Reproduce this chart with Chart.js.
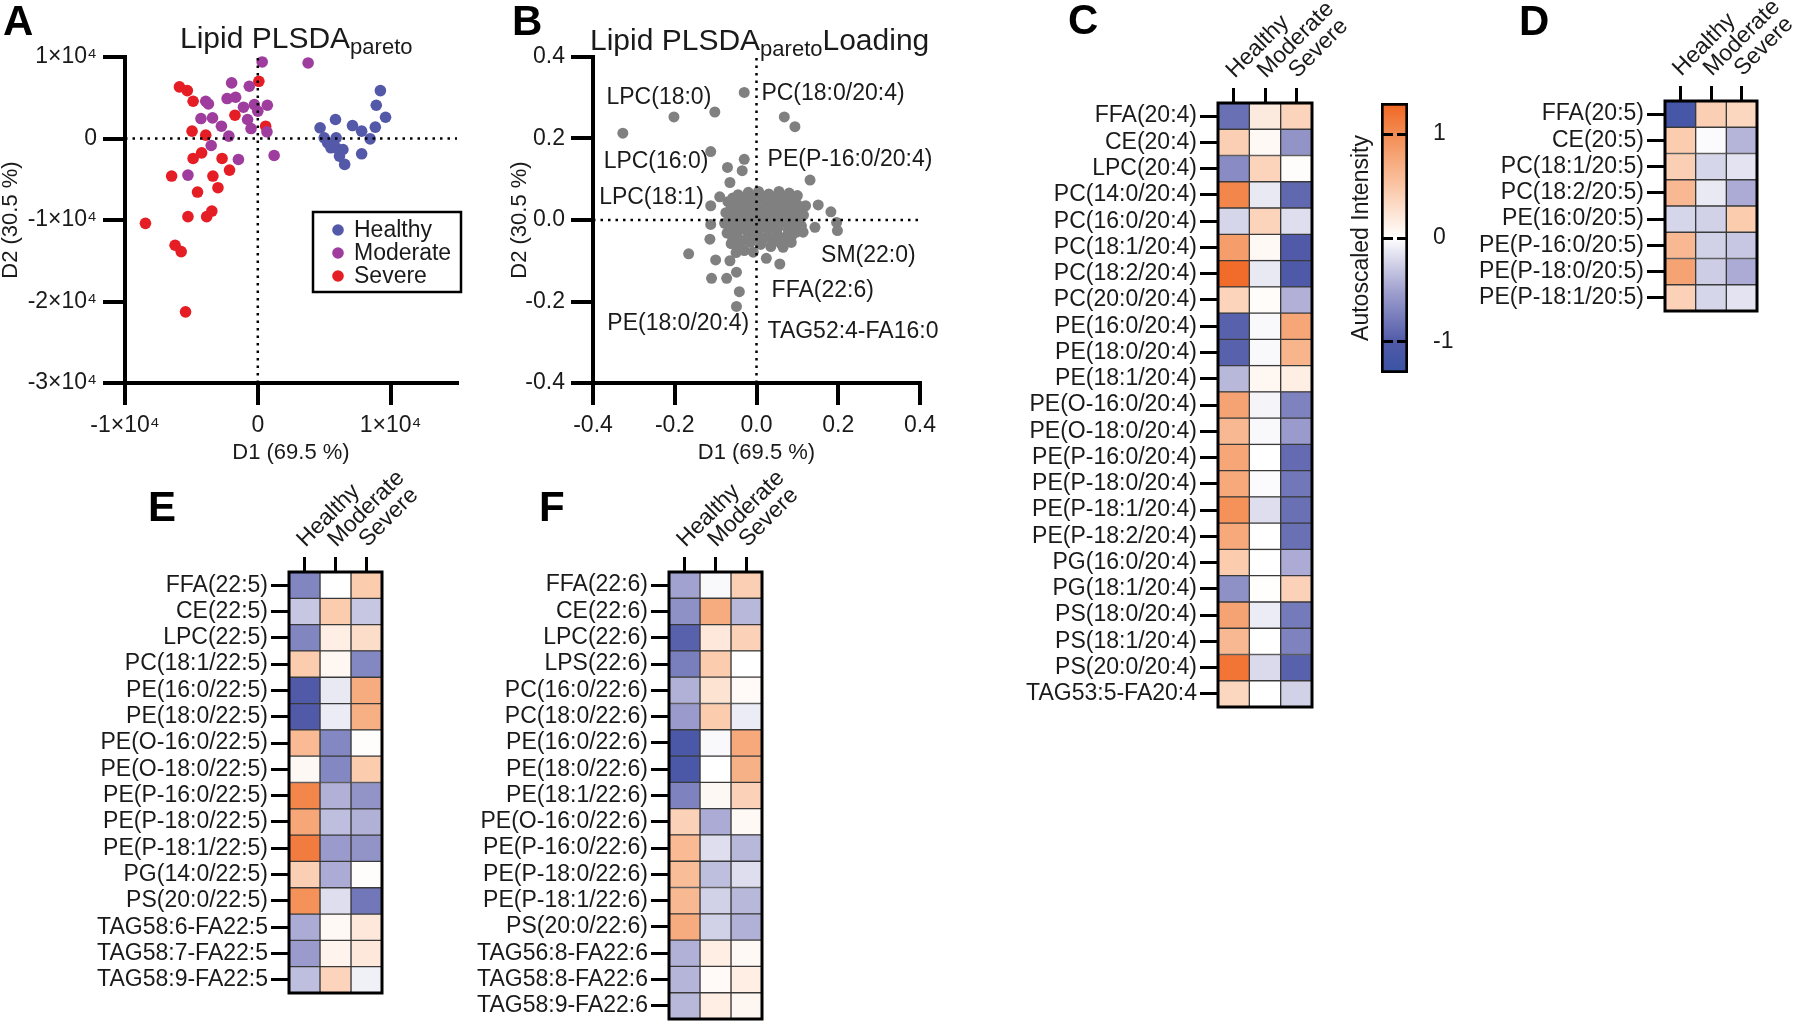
<!DOCTYPE html>
<html>
<head>
<meta charset="utf-8">
<script src="https://cdn.jsdelivr.net/npm/chart.js@4.4.1/dist/chart.umd.min.js"></script>
<style>
  body { margin: 0; background: #fff; }
  #fig { position: relative; width: 1800px; height: 1021px; overflow: hidden;
         font-family: Arial, 'Liberation Sans', sans-serif; color: #1a1a1a; }
  canvas { position: absolute; }
  .lt { position: absolute; font-weight: bold; font-size: 42px; line-height: 1; color: #000; }
  .ttl { position: absolute; font-size: 30px; line-height: 1; white-space: nowrap; }
  .ttl span { font-size: 22px; position: relative; top: 6px; }
</style>
</head>
<body>
<div id="fig">
  <canvas id="cA" width="470" height="470" style="left:0;top:0"></canvas>
  <canvas id="cB" width="480" height="470" style="left:470px;top:0"></canvas>
  <canvas id="cC" width="370" height="720" style="left:1000px;top:0"></canvas>
  <canvas id="cBar" width="140" height="310" style="left:1330px;top:80px"></canvas>
  <canvas id="cD" width="340" height="330" style="left:1460px;top:0"></canvas>
  <canvas id="cE" width="340" height="540" style="left:90px;top:470px"></canvas>
  <canvas id="cF" width="370" height="551" style="left:450px;top:470px"></canvas>

  <div class="lt" style="left:3px;top:0">A</div>
  <div class="lt" style="left:512px;top:0">B</div>
  <div class="lt" style="left:1068px;top:-1px">C</div>
  <div class="lt" style="left:1519px;top:0">D</div>
  <div class="lt" style="left:148px;top:486px">E</div>
  <div class="lt" style="left:539px;top:486px">F</div>
  <div class="ttl" style="left:180px;top:23px">Lipid PLSDA<span>pareto</span></div>
  <div class="ttl" style="left:590px;top:25px">Lipid PLSDA<span>pareto</span>Loading</div>
</div>
<script>
// groupes
const groups = ['Healthy', 'Moderate', 'Severe'];
const groupColors = ['#5458A8', '#9E3D9E', '#E51E25'];

// A : scores PLSDA (D1, D2)
const aHealthy = [[9230, 5880], [8920, 4080], [9620, 2610], [8850, 1390], [5850, 2330], [4690, 1310],
  [7130, 1590], [7820, 900], [8460, -40], [5000, 80], [5260, -530], [5510, -1140], [5900, 80],
  [6410, -1350], [6150, -2160], [6540, -3180], [7820, -1880], [5900, -1140]];
const aModerate = [[330, 9390], [3790, 9270], [-1970, 6820], [-640, 6410], [-3920, 4570], [-3720, 4240],
  [-2310, 4900], [-1670, 5060], [-1080, 3840], [-260, 4160], [720, 4080], [0, 3350], [-4280, 2450],
  [-3410, 2530], [-770, 2330], [-2740, 1510], [-510, 1220], [-2180, 290], [690, 820], [-3510, -860],
  [-1460, -2570], [1230, -2080], [-5260, -4490]];
const aSevere = [[-5900, 6330], [-5310, 5880], [-4870, 4570], [80, 7020], [-1720, 2860], [590, 1510],
  [-4950, 900], [-3920, 410], [-4870, -2450], [-4230, -1760], [-2690, -2450], [-2130, -3880],
  [-6490, -4610], [-3380, -4610], [-3000, -6040], [-4540, -6570], [-5260, -9590], [-3850, -9590],
  [-3460, -8900], [-8460, -10410], [-6230, -13100], [-5770, -13880], [-5440, -21270]];
const aXRange = [-10000, 15000];
const aYRange = [-30000, 10000];
const aXTicks = [-10000, 0, 10000];
const aYTicks = [-30000, -20000, -10000, 0, 10000];

// B : loadings
const bLoadings = [[-0.327, 0.213], [-0.202, 0.253], [-0.102, 0.265], [-0.030, 0.313], [0.068, 0.253],
  [0.094, 0.229], [-0.112, 0.168], [-0.030, 0.149], [-0.035, 0.121], [-0.071, 0.129], [-0.065, 0.092],
  [0.131, 0.098], [-0.090, 0.057], [-0.112, 0.035], [0.151, 0.037], [0.182, 0.020], [0.196, -0.006],
  [0.198, -0.026], [0.143, -0.018], [0.114, -0.030], [-0.112, -0.011], [-0.114, -0.047], [-0.166, -0.083],
  [-0.100, -0.098], [-0.065, -0.100], [-0.049, -0.128], [-0.110, -0.143], [-0.073, -0.143], [-0.042, -0.176],
  [-0.049, -0.212], [-0.008, -0.079], [0.024, -0.094], [0.057, -0.108], [0.065, -0.067],
  [-0.045, 0.062], [-0.020, 0.068], [0.005, 0.070], [0.030, 0.064], [0.055, 0.070], [0.080, 0.066], [0.100, 0.060],
  [-0.058, 0.054], [-0.035, 0.052], [-0.010, 0.056], [0.015, 0.054], [0.040, 0.055], [0.065, 0.052], [0.090, 0.050],
  [-0.070, 0.045], [-0.050, 0.040], [-0.025, 0.042], [0.000, 0.038], [0.025, 0.044], [0.050, 0.040],
  [0.075, 0.043], [0.100, 0.038], [0.120, 0.035],
  [-0.062, 0.030], [-0.038, 0.028], [-0.015, 0.030], [0.010, 0.026], [0.035, 0.030], [0.060, 0.027],
  [0.085, 0.030], [0.108, 0.025],
  [-0.075, 0.018], [-0.050, 0.014], [-0.028, 0.020], [-0.005, 0.012], [0.020, 0.016], [0.045, 0.020],
  [0.070, 0.012], [0.095, 0.018], [0.115, 0.012],
  [-0.065, 0.004], [-0.040, 0.002], [-0.018, 0.006], [0.005, 0.000], [0.030, 0.004], [0.055, 0.002],
  [0.080, 0.005], [0.102, 0.000],
  [-0.078, -0.008], [-0.055, -0.012], [-0.030, -0.006], [-0.008, -0.014], [0.015, -0.008], [0.040, -0.012],
  [0.065, -0.006], [0.090, -0.010], [0.110, -0.015],
  [-0.065, -0.020], [-0.042, -0.024], [-0.018, -0.020], [0.005, -0.025], [0.028, -0.022], [0.052, -0.020],
  [0.078, -0.024], [0.100, -0.020],
  [-0.072, -0.032], [-0.048, -0.038], [-0.022, -0.030], [0.002, -0.036], [0.026, -0.040], [0.050, -0.033],
  [0.075, -0.038], [0.098, -0.030],
  [-0.058, -0.046], [-0.035, -0.050], [-0.010, -0.045], [0.015, -0.048], [0.040, -0.050], [0.062, -0.045],
  [0.085, -0.042],
  [-0.062, -0.058], [-0.040, -0.062], [-0.015, -0.055], [0.010, -0.060], [0.035, -0.065], [0.060, -0.058],
  [0.085, -0.055], [-0.050, -0.080], [-0.030, -0.075]];
const bXRange = [-0.4, 0.4];
const bYRange = [-0.4, 0.4];
const bTicks = [-0.4, -0.2, 0, 0.2, 0.4];
const bNoteText = ['LPC(18:0)', 'PC(18:0/20:4)', 'LPC(16:0)', 'PE(P-16:0/20:4)', 'LPC(18:1)',
  'SM(22:0)', 'FFA(22:6)', 'PE(18:0/20:4)', 'TAG52:4-FA16:0'];
const bNoteX = [-0.367, 0.012, -0.374, 0.027, -0.385, 0.158, 0.037, -0.365, 0.027];
const bNoteY = [0.300, 0.309, 0.143, 0.149, 0.056, -0.087, -0.173, -0.255, -0.275];

// C : 20:4
const cRows = ['FFA(20:4)', 'CE(20:4)', 'LPC(20:4)', 'PC(14:0/20:4)', 'PC(16:0/20:4)', 'PC(18:1/20:4)',
  'PC(18:2/20:4)', 'PC(20:0/20:4)', 'PE(16:0/20:4)', 'PE(18:0/20:4)', 'PE(18:1/20:4)', 'PE(O-16:0/20:4)',
  'PE(O-18:0/20:4)', 'PE(P-16:0/20:4)', 'PE(P-18:0/20:4)', 'PE(P-18:1/20:4)', 'PE(P-18:2/20:4)',
  'PG(16:0/20:4)', 'PG(18:1/20:4)', 'PS(18:0/20:4)', 'PS(18:1/20:4)', 'PS(20:0/20:4)', 'TAG53:5-FA20:4'];
const cHealthy = [-0.85, 0.42, -0.65, 1.05, -0.22, 0.85, 1.25, 0.38, -0.95, -0.95, -0.38, 0.8, 0.62,
  0.78, 0.75, 0.95, 0.75, 0.45, -0.62, 0.8, 0.62, 1.18, 0.35];
const cModerate = [0.18, 0.05, 0.38, -0.12, 0.38, 0.05, -0.12, 0.03, -0.03, -0.03, 0.07, -0.06, -0.03,
  0, -0.02, -0.18, 0, 0, 0.01, -0.1, 0, -0.2, 0];
const cSevere = [0.38, -0.6, 0.02, -0.9, -0.18, -1.0, -1.02, -0.42, 0.78, 0.65, 0.15, -0.72, -0.55,
  -0.88, -0.8, -0.85, -0.85, -0.45, 0.4, -0.78, -0.72, -0.95, -0.25];

// D : 20:5
const dRows = ['FFA(20:5)', 'CE(20:5)', 'PC(18:1/20:5)', 'PC(18:2/20:5)', 'PE(16:0/20:5)',
  'PE(P-16:0/20:5)', 'PE(P-18:0/20:5)', 'PE(P-18:1/20:5)'];
const dHealthy = [-1.15, 0.45, 0.42, 0.62, -0.22, 0.62, 0.8, 0.4];
const dModerate = [0.42, -0.02, -0.22, -0.12, -0.25, -0.25, -0.27, -0.22];
const dSevere = [0.35, -0.4, -0.15, -0.45, 0.45, -0.3, -0.45, -0.15];

// E : 22:5
const eRows = ['FFA(22:5)', 'CE(22:5)', 'LPC(22:5)', 'PC(18:1/22:5)', 'PE(16:0/22:5)', 'PE(18:0/22:5)',
  'PE(O-16:0/22:5)', 'PE(O-18:0/22:5)', 'PE(P-16:0/22:5)', 'PE(P-18:0/22:5)', 'PE(P-18:1/22:5)',
  'PG(14:0/22:5)', 'PS(20:0/22:5)', 'TAG58:6-FA22:5', 'TAG58:7-FA22:5', 'TAG58:9-FA22:5'];
const eHealthy = [-0.7, -0.3, -0.7, 0.45, -1.0, -1.0, 0.6, 0.06, 1.05, 0.78, 1.12, 0.42, 0.95, -0.45, -0.55, -0.35];
const eModerate = [0, 0.45, 0.15, 0.07, -0.12, -0.1, -0.68, -0.68, -0.42, -0.35, -0.55, -0.45, -0.18, 0.05, 0.1, 0.38];
const eSevere = [0.45, -0.3, 0.3, -0.68, 0.72, 0.7, 0.02, 0.45, -0.6, -0.42, -0.6, 0.02, -0.8, 0.2, 0.2, -0.08];

// F : 22:6
const fRows = ['FFA(22:6)', 'CE(22:6)', 'LPC(22:6)', 'LPS(22:6)', 'PC(16:0/22:6)', 'PC(18:0/22:6)',
  'PE(16:0/22:6)', 'PE(18:0/22:6)', 'PE(18:1/22:6)', 'PE(O-16:0/22:6)', 'PE(P-16:0/22:6)',
  'PE(P-18:0/22:6)', 'PE(P-18:1/22:6)', 'PS(20:0/22:6)', 'TAG56:8-FA22:6', 'TAG58:8-FA22:6', 'TAG58:9-FA22:6'];
const fHealthy = [-0.5, -0.62, -0.95, -0.75, -0.42, -0.55, -1.08, -1.08, -0.72, 0.4, 0.6, 0.58, 0.62, 0.72, -0.42, -0.4, -0.38];
const fModerate = [-0.03, 0.72, 0.2, 0.45, 0.25, 0.45, -0.03, 0, 0.06, -0.45, -0.18, -0.35, -0.25, -0.25, 0.15, 0.04, 0.15];
const fSevere = [0.42, -0.38, 0.4, 0, 0.04, -0.1, 0.75, 0.68, 0.4, 0.05, -0.38, -0.18, -0.38, -0.42, 0.05, 0.15, 0.08];

// échelle de couleur
const cbRange = [-1.3, 1.3];
const cbTicks = [-1, 0, 1];
const cmapStops = [-1.3, -1.0, -0.5, 0, 0.5, 1.0, 1.3];
const cmapRGB = [[57, 83, 164], [80, 90, 168], [162, 162, 208], [255, 255, 255], [250, 198, 165], [243, 140, 82], [241, 101, 34]];

const FONT = "Arial, 'Liberation Sans', sans-serif";
Chart.defaults.font.family = FONT;
Chart.defaults.color = '#1a1a1a';
Chart.defaults.animation = false;
Chart.defaults.plugins.legend.display = false;
Chart.defaults.plugins.tooltip.enabled = false;

const rgb = c => `rgb(${c[0]},${c[1]},${c[2]})`;
function cmap(v) {
  if (v <= cmapStops[0]) return rgb(cmapRGB[0]);
  for (let i = 1; i < cmapStops.length; i++) {
    if (v <= cmapStops[i]) {
      const t = (v - cmapStops[i - 1]) / (cmapStops[i] - cmapStops[i - 1]);
      const a = cmapRGB[i - 1], b = cmapRGB[i];
      return rgb(a.map((x, k) => Math.round(x + (b[k] - x) * t)));
    }
  }
  return rgb(cmapRGB[cmapRGB.length - 1]);
}

const toPts = arr => arr.map(([x, y]) => ({x, y}));
const noPad = s => { s.paddingLeft = 0; s.paddingRight = 0; s.paddingTop = 0; s.paddingBottom = 0; };

function numAxis(range, ticks, fmt, title, size, horiz, titlePad) {
  return {
    type: 'linear', min: range[0], max: range[1],
    afterBuildTicks: s => { s.ticks = ticks.map(value => ({value})); },
    afterFit: s => { if (horiz) s.height = size; else s.width = size; noPad(s); },
    border: {color: '#000', width: 4},
    grid: {drawOnChartArea: false, drawTicks: true, tickLength: 22, lineWidth: 4, color: '#000'},
    ticks: {font: {size: 23}, padding: horiz ? 7 : 6, autoSkip: false, maxRotation: 0, callback: v => fmt(v)},
    title: {display: true, text: title, font: {size: 22, lineHeight: 1}, padding: titlePad}
  };
}

function zeroLines(xr, yr) {
  const st = {showLine: true, borderColor: '#000', borderWidth: 2.5, borderDash: [2.5, 5],
    pointRadius: 0, fill: false};
  return [
    {...st, data: [{x: xr[0], y: 0}, {x: xr[1], y: 0}]},
    {...st, data: [{x: 0, y: yr[0]}, {x: 0, y: yr[1]}]}
  ];
}

// légende encadrée de A
const boxLegend = {
  id: 'boxLegend',
  afterDatasetsDraw(chart) {
    const ctx = chart.ctx, L = 313, T = 212;
    ctx.save();
    ctx.lineWidth = 2.5;
    ctx.strokeStyle = '#000';
    ctx.strokeRect(L, T, 148, 80);
    ctx.font = '23px ' + FONT;
    ctx.textBaseline = 'middle';
    groups.forEach((g, i) => {
      const y = T + 18 + i * 23;
      ctx.fillStyle = groupColors[i];
      ctx.beginPath();
      ctx.arc(L + 25, y, 5.8, 0, Math.PI * 2);
      ctx.fill();
      ctx.fillStyle = '#1a1a1a';
      ctx.fillText(g, L + 41, y + 1);
    });
    ctx.restore();
  }
};

// étiquettes de B
const pointNotes = {
  id: 'pointNotes',
  afterDatasetsDraw(chart) {
    const {ctx, scales: {x, y}} = chart;
    ctx.save();
    ctx.font = '23px ' + FONT;
    ctx.fillStyle = '#1a1a1a';
    ctx.textBaseline = 'middle';
    ctx.textAlign = 'left';
    bNoteText.forEach((t, i) => ctx.fillText(t, x.getPixelForValue(bNoteX[i]), y.getPixelForValue(bNoteY[i])));
    ctx.restore();
  }
};

const sci = v => v === 0 ? '0' : (v / 1e4) + '×10⁴';
const dec = v => v.toFixed(1);

new Chart(document.getElementById('cA'), {
  type: 'scatter',
  data: {
    datasets: [
      ...zeroLines(aXRange, aYRange),
      {data: toPts(aHealthy), backgroundColor: groupColors[0], pointRadius: 5.8, borderWidth: 0},
      {data: toPts(aModerate), backgroundColor: groupColors[1], pointRadius: 5.8, borderWidth: 0},
      {data: toPts(aSevere), backgroundColor: groupColors[2], pointRadius: 5.8, borderWidth: 0}
    ]
  },
  options: {
    responsive: false,
    clip: false,
    layout: {padding: {top: 57, right: 13, left: 0, bottom: 0}},
    scales: {
      x: numAxis(aXRange, aXTicks, sci, 'D1 (69.5 %)', 87, true, {top: 0, bottom: 6}),
      y: numAxis(aYRange, aYTicks, sci, 'D2 (30.5 %)', 125, false, {top: 0, bottom: 0})
    }
  },
  plugins: [boxLegend]
});

new Chart(document.getElementById('cB'), {
  type: 'scatter',
  data: {
    datasets: [
      ...zeroLines(bXRange, bYRange),
      {data: toPts(bLoadings), backgroundColor: '#808080', pointRadius: 5.5, borderWidth: 0}
    ]
  },
  options: {
    responsive: false,
    clip: false,
    layout: {padding: {top: 57, right: 30, left: 0, bottom: 0}},
    scales: {
      x: numAxis(bXRange, bTicks, dec, 'D1 (69.5 %)', 87, true, {top: 0, bottom: 6}),
      y: numAxis(bYRange, bTicks, dec, 'D2 (30.5 %)', 123, false, {top: 39, bottom: 0})
    }
  },
  plugins: [pointNotes]
});

// cadre noir autour des cartes de chaleur
const frame = {
  id: 'frame',
  afterDatasetsDraw(chart) {
    const {ctx, chartArea: a} = chart;
    ctx.save();
    ctx.lineWidth = 3;
    ctx.strokeStyle = '#000';
    ctx.strokeRect(a.left, a.top, a.right - a.left, a.bottom - a.top);
    ctx.restore();
  }
};

function heatmap(id, rows, cols, geo) {
  return new Chart(document.getElementById(id), {
    type: 'bar',
    data: {
      labels: rows,
      datasets: cols.map((vals, c) => ({
        data: rows.map(() => [c, c + 1]),
        backgroundColor: vals.map(cmap),
        borderColor: '#3a3a3a', borderWidth: 1, borderSkipped: false,
        grouped: false, barPercentage: 1, categoryPercentage: 1
      }))
    },
    options: {
      indexAxis: 'y',
      responsive: false,
      layout: {padding: {top: 0, right: geo.right, bottom: geo.bottom, left: 0}},
      scales: {
        x: {
          type: 'linear', position: 'top', min: 0, max: groups.length,
          afterBuildTicks: s => { s.ticks = groups.map((g, i) => ({value: i + 0.5})); },
          afterFit: s => { s.height = geo.top; noPad(s); },
          ticks: {autoSkip: false, minRotation: 45, maxRotation: 45, padding: 4, labelOffset: 16,
            font: {size: 23}, callback: (v, i) => groups[i]},
          grid: {drawOnChartArea: false, tickLength: 15, lineWidth: 3, color: '#000'},
          border: {display: false}
        },
        y: {
          type: 'category',
          afterFit: s => { s.width = geo.left; noPad(s); },
          ticks: {autoSkip: false, padding: 3, font: {size: 23}},
          grid: {drawOnChartArea: false, offset: false, tickLength: 18, lineWidth: 3, color: '#000'},
          border: {display: false}
        }
      }
    },
    plugins: [frame]
  });
}

heatmap('cC', cRows, [cHealthy, cModerate, cSevere], {left: 218, top: 103, right: 58, bottom: 13});
heatmap('cD', dRows, [dHealthy, dModerate, dSevere], {left: 205, top: 101, right: 43, bottom: 19});
heatmap('cE', eRows, [eHealthy, eModerate, eSevere], {left: 199, top: 102, right: 48, bottom: 17});
heatmap('cF', fRows, [fHealthy, fModerate, fSevere], {left: 219, top: 102, right: 58, bottom: 2});

// barre de couleur
new Chart(document.getElementById('cBar'), {
  type: 'bar',
  data: {
    labels: [''],
    datasets: [{
      data: [[cbRange[0], cbRange[1]]],
      backgroundColor: c => {
        const ch = c.chart, y = ch.scales.y;
        if (!ch.chartArea || !y) return '#ccc';
        const g = ch.ctx.createLinearGradient(0, y.getPixelForValue(cbRange[1]), 0, y.getPixelForValue(cbRange[0]));
        cmapStops.forEach((v, i) => {
          const p = (cbRange[1] - v) / (cbRange[1] - cbRange[0]);
          g.addColorStop(Math.min(1, Math.max(0, p)), rgb(cmapRGB[i]));
        });
        return g;
      },
      borderColor: '#000', borderWidth: 3, borderSkipped: false,
      barPercentage: 1, categoryPercentage: 1
    }]
  },
  options: {
    responsive: false,
    layout: {padding: {top: 23, bottom: 17, left: 0, right: 0}},
    scales: {
      x: {display: false},
      y: {
        type: 'linear', position: 'right', min: cbRange[0], max: cbRange[1],
        afterBuildTicks: s => { s.ticks = cbTicks.map(value => ({value})); },
        afterFit: s => { s.width = 62; noPad(s); },
        ticks: {padding: 25, font: {size: 23}},
        grid: {drawTicks: false, color: '#000', lineWidth: 3, z: 1},
        border: {display: false, dash: [12, 4]}
      },
      yt: {
        type: 'linear', position: 'left', min: cbRange[0], max: cbRange[1],
        afterFit: s => { s.width = 51; noPad(s); },
        ticks: {display: false},
        grid: {display: false},
        border: {display: false},
        title: {display: true, text: 'Autoscaled Intensity', font: {size: 23, lineHeight: 1}, padding: {top: 20, bottom: 0}}
      }
    }
  }
});
</script>
</body>
</html>
